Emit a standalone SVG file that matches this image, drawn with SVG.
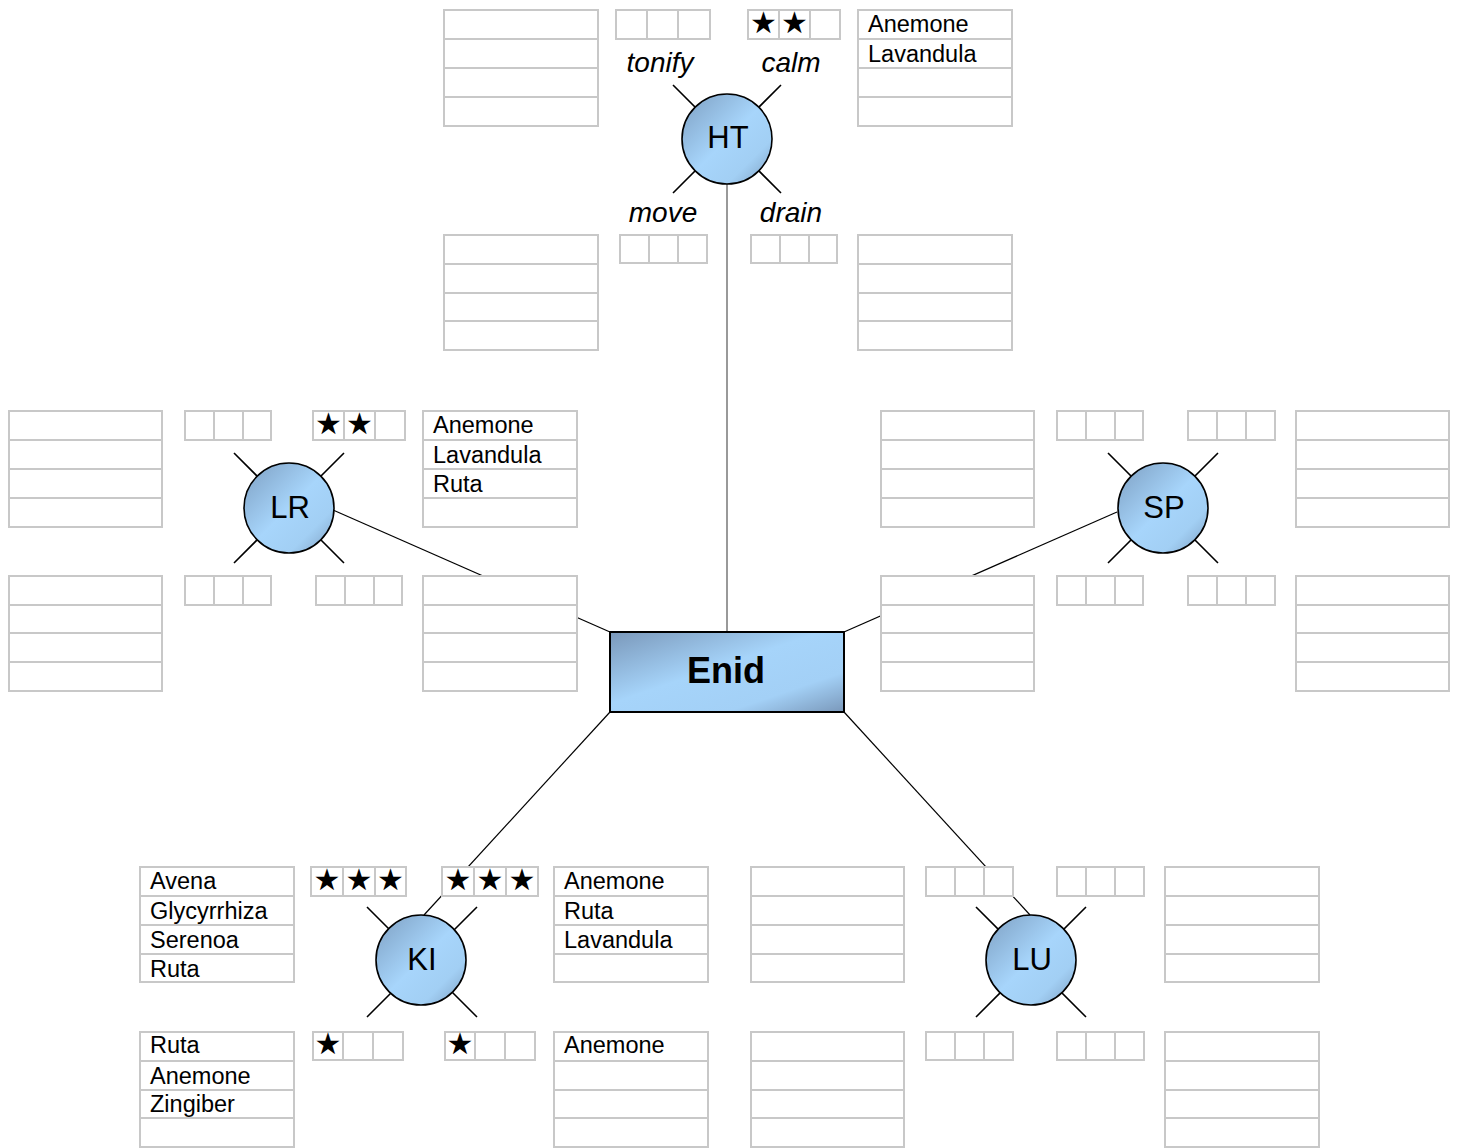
<svg xmlns="http://www.w3.org/2000/svg" width="1460" height="1148" viewBox="0 0 1460 1148">
<defs>
<linearGradient id="gc" x1="0" y1="0" x2="1" y2="1">
<stop offset="0" stop-color="#7d9fc2"/>
<stop offset="0.5" stop-color="#a7d5fb"/>
<stop offset="0.75" stop-color="#a2cff4"/>
<stop offset="1" stop-color="#7d9fc2"/>
</linearGradient>
<linearGradient id="gr" x1="0" y1="0" x2="1" y2="1">
<stop offset="0" stop-color="#7a98ba"/>
<stop offset="0.45" stop-color="#a6d4fa"/>
<stop offset="0.75" stop-color="#a3d0f6"/>
<stop offset="1" stop-color="#7a98ba"/>
</linearGradient>
<style>
.t{fill:#fff;stroke:#c8c8c8;stroke-width:2}
.g{stroke:#c8c8c8;stroke-width:2;fill:none}
.x{font-family:"Liberation Sans",Arial,sans-serif;font-size:23.5px;fill:#000}
.s{font-family:"DejaVu Sans",sans-serif;font-size:30px;fill:#000;text-anchor:middle}
.l{font-family:"Liberation Sans",Arial,sans-serif;font-size:28px;font-style:italic;fill:#000;text-anchor:middle}
.c{fill:url(#gc);stroke:#000;stroke-width:1.6}
.n{font-family:"Liberation Sans",Arial,sans-serif;font-size:31px;fill:#000;text-anchor:middle}
.k{stroke:#000;stroke-width:1.6;fill:none}
.conn line{stroke:#000;stroke-width:1.2}
</style>
</defs>
<rect width="1460" height="1148" fill="#fff"/>
<g id="connectors" class="conn">
<line x1="727" y1="184" x2="727" y2="632" style="stroke:#555"/>
<line x1="333" y1="510" x2="610" y2="632"/>
<line x1="1117" y1="512" x2="844" y2="632"/>
<line x1="610" y1="712" x2="424" y2="915"/>
<line x1="844" y1="712" x2="1030" y2="915"/>
</g>
<g id="node-HT">
<rect class="t" x="444" y="10" width="154" height="116"/><path class="g" d="M444 39H598M444 68H598M444 97H598"/>
<rect class="t" x="616" y="10" width="94" height="29"/><path class="g" d="M647 10V39M678 10V39"/>
<rect class="t" x="748" y="10" width="92" height="29"/><path class="g" d="M779 10V39M810 10V39"/>
<text class="s" x="763.5" y="33">★</text><text class="s" x="794.5" y="33">★</text>
<rect class="t" x="858" y="10" width="154" height="116"/><path class="g" d="M858 39H1012M858 68H1012M858 97H1012"/>
<text class="x" x="868" y="32">Anemone</text><text class="x" x="868" y="62">Lavandula</text>
<rect class="t" x="444" y="235" width="154" height="115"/><path class="g" d="M444 264H598M444 293H598M444 321H598"/>
<rect class="t" x="620" y="235" width="87" height="28"/><path class="g" d="M649 235V263M678 235V263"/>
<rect class="t" x="751" y="235" width="86" height="28"/><path class="g" d="M780 235V263M809 235V263"/>
<rect class="t" x="858" y="235" width="154" height="115"/><path class="g" d="M858 264H1012M858 293H1012M858 321H1012"/>
<text class="l" x="660" y="72">tonify</text><text class="l" x="791" y="72">calm</text>
<text class="l" x="663" y="222">move</text><text class="l" x="791" y="222">drain</text>
<path class="k" d="M673 85L781 193M781 85L673 193"/>
<circle class="c" cx="727" cy="139" r="45"/>
<text class="n" x="728" y="148">HT</text>
</g>
<g id="node-LR">
<rect class="t" x="9" y="411" width="153" height="116"/><path class="g" d="M9 440H162M9 469H162M9 498H162"/>
<rect class="t" x="185" y="411" width="86" height="29"/><path class="g" d="M214 411V440M243 411V440"/>
<rect class="t" x="313" y="411" width="92" height="29"/><path class="g" d="M344 411V440M375 411V440"/>
<text class="s" x="328.5" y="434">★</text><text class="s" x="359.5" y="434">★</text>
<rect class="t" x="423" y="411" width="154" height="116"/><path class="g" d="M423 440H577M423 469H577M423 498H577"/>
<text class="x" x="433" y="433">Anemone</text><text class="x" x="433" y="463">Lavandula</text><text class="x" x="433" y="492">Ruta</text>
<rect class="t" x="9" y="576" width="153" height="115"/><path class="g" d="M9 605H162M9 633H162M9 662H162"/>
<rect class="t" x="185" y="576" width="86" height="29"/><path class="g" d="M214 576V605M243 576V605"/>
<rect class="t" x="316" y="576" width="86" height="29"/><path class="g" d="M345 576V605M374 576V605"/>
<rect class="t" x="423" y="576" width="154" height="115"/><path class="g" d="M423 605H577M423 633H577M423 662H577"/>
<path class="k" d="M234 453L344 563M344 453L234 563"/>
<circle class="c" cx="289" cy="508" r="45"/>
<text class="n" x="290" y="518">LR</text>
</g>
<g id="node-SP">
<rect class="t" x="881" y="411" width="153" height="116"/><path class="g" d="M881 440H1034M881 469H1034M881 498H1034"/>
<rect class="t" x="1057" y="411" width="86" height="29"/><path class="g" d="M1086 411V440M1115 411V440"/>
<rect class="t" x="1188" y="411" width="87" height="29"/><path class="g" d="M1217 411V440M1246 411V440"/>
<rect class="t" x="1296" y="411" width="153" height="116"/><path class="g" d="M1296 440H1449M1296 469H1449M1296 498H1449"/>
<rect class="t" x="881" y="576" width="153" height="115"/><path class="g" d="M881 605H1034M881 633H1034M881 662H1034"/>
<rect class="t" x="1057" y="576" width="86" height="29"/><path class="g" d="M1086 576V605M1115 576V605"/>
<rect class="t" x="1188" y="576" width="87" height="29"/><path class="g" d="M1217 576V605M1246 576V605"/>
<rect class="t" x="1296" y="576" width="153" height="115"/><path class="g" d="M1296 605H1449M1296 633H1449M1296 662H1449"/>
<path class="k" d="M1108 453L1218 563M1218 453L1108 563"/>
<circle class="c" cx="1163" cy="508" r="45"/>
<text class="n" x="1164" y="518">SP</text>
</g>
<g id="node-Enid">
<rect x="610" y="632" width="234" height="80" fill="url(#gr)" stroke="#000" stroke-width="2"/>
<text x="726" y="683" font-family="'Liberation Sans',Arial,sans-serif" font-size="36" font-weight="bold" text-anchor="middle">Enid</text>
</g>
<g id="node-KI">
<rect class="t" x="140" y="867" width="154" height="115"/><path class="g" d="M140 896H294M140 925H294M140 954H294"/>
<text class="x" x="150" y="889">Avena</text><text class="x" x="150" y="919">Glycyrrhiza</text><text class="x" x="150" y="948">Serenoa</text><text class="x" x="150" y="977">Ruta</text>
<rect class="t" x="311" y="867" width="95" height="29"/><path class="g" d="M343 867V896M375 867V896"/>
<text class="s" x="327" y="890">★</text><text class="s" x="359" y="890">★</text><text class="s" x="390.5" y="890">★</text>
<rect class="t" x="442" y="867" width="96" height="29"/><path class="g" d="M474 867V896M506 867V896"/>
<text class="s" x="458" y="890">★</text><text class="s" x="490" y="890">★</text><text class="s" x="522" y="890">★</text>
<rect class="t" x="554" y="867" width="154" height="115"/><path class="g" d="M554 896H708M554 925H708M554 954H708"/>
<text class="x" x="564" y="889">Anemone</text><text class="x" x="564" y="919">Ruta</text><text class="x" x="564" y="948">Lavandula</text>
<rect class="t" x="140" y="1032" width="154" height="115"/><path class="g" d="M140 1061H294M140 1090H294M140 1118H294"/>
<text class="x" x="150" y="1053">Ruta</text><text class="x" x="150" y="1084">Anemone</text><text class="x" x="150" y="1112">Zingiber</text>
<rect class="t" x="313" y="1032" width="90" height="28"/><path class="g" d="M343 1032V1060M373 1032V1060"/>
<text class="s" x="328" y="1054">★</text>
<rect class="t" x="445" y="1032" width="90" height="28"/><path class="g" d="M475 1032V1060M505 1032V1060"/>
<text class="s" x="460" y="1054">★</text>
<rect class="t" x="554" y="1032" width="154" height="115"/><path class="g" d="M554 1061H708M554 1090H708M554 1118H708"/>
<text class="x" x="564" y="1053">Anemone</text>
<path class="k" d="M367 907L477 1017M477 907L367 1017"/>
<circle class="c" cx="421" cy="960" r="45"/>
<text class="n" x="422" y="970">KI</text>
</g>
<g id="node-LU">
<rect class="t" x="751" y="867" width="153" height="115"/><path class="g" d="M751 896H904M751 925H904M751 954H904"/>
<rect class="t" x="926" y="867" width="87" height="29"/><path class="g" d="M955 867V896M984 867V896"/>
<rect class="t" x="1057" y="867" width="87" height="29"/><path class="g" d="M1086 867V896M1115 867V896"/>
<rect class="t" x="1165" y="867" width="154" height="115"/><path class="g" d="M1165 896H1319M1165 925H1319M1165 954H1319"/>
<rect class="t" x="751" y="1032" width="153" height="115"/><path class="g" d="M751 1061H904M751 1090H904M751 1118H904"/>
<rect class="t" x="926" y="1032" width="87" height="28"/><path class="g" d="M955 1032V1060M984 1032V1060"/>
<rect class="t" x="1057" y="1032" width="87" height="28"/><path class="g" d="M1086 1032V1060M1115 1032V1060"/>
<rect class="t" x="1165" y="1032" width="154" height="115"/><path class="g" d="M1165 1061H1319M1165 1090H1319M1165 1118H1319"/>
<path class="k" d="M976 907L1086 1017M1086 907L976 1017"/>
<circle class="c" cx="1031" cy="960" r="45"/>
<text class="n" x="1032" y="970">LU</text>
</g>
</svg>
